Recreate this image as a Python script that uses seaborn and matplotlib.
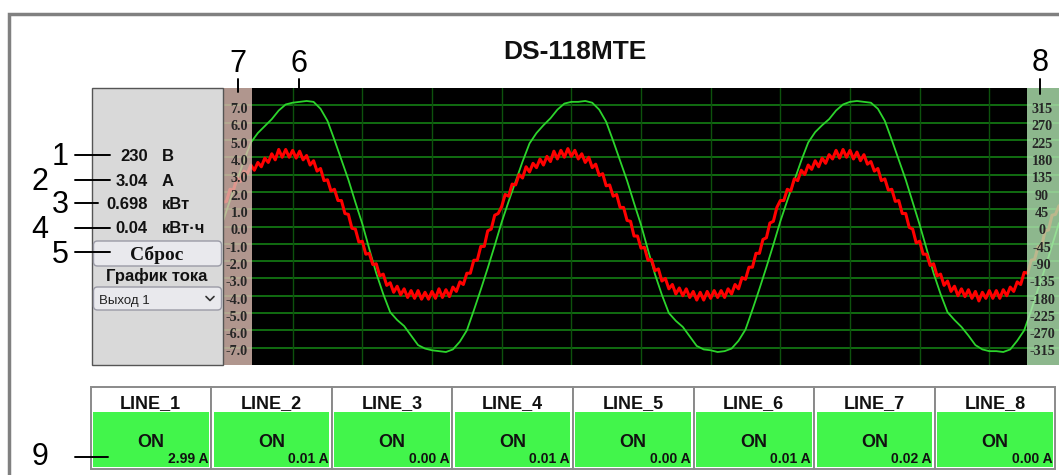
import numpy as np
import matplotlib
matplotlib.use("Agg")
import matplotlib.pyplot as plt
from matplotlib.patches import Rectangle, FancyBboxPatch
import seaborn as sns

sns.set_theme(style="white")
plt.rcParams['font.family'] = ['Liberation Sans', 'DejaVu Sans']

W, H = 1059, 475

# --- data ---
title = "DS-118MTE"
meter_values = ["230", "3.04", "0.698", "0.04"]
meter_units = ["В", "А", "кВт", "кВт·ч"]
reset_label = "Сброс"
graph_label = "График тока"
output_choice = "Выход 1"

current_scale = [7.0, 6.0, 5.0, 4.0, 3.0, 2.0, 1.0, 0.0, -1.0, -2.0, -3.0, -4.0, -5.0, -6.0, -7.0]
voltage_scale = [315, 270, 225, 180, 135, 90, 45, 0, -45, -90, -135, -180, -225, -270, -315]

line_names = ["LINE_1", "LINE_2", "LINE_3", "LINE_4", "LINE_5", "LINE_6", "LINE_7", "LINE_8"]
line_states = ["ON"] * 8
line_currents = [2.99, 0.01, 0.00, 0.01, 0.00, 0.01, 0.02, 0.00]

# voltage trace (green), one value every 2 samples, in current-scale units
green_voltage = [
    0.3, 1.5, 2.65, 3.8, 4.85, 5.4, 5.8, 6.2, 6.7, 7.05, 7.15, 7.2, 7.25, 7.2, 6.8, 6.1, 5.0, 3.85, 2.7, 1.4,
    0.15, -1.3, -2.7, -3.9, -4.95, -5.4, -5.75, -6.3, -6.85, -7.05, -7.15, -7.2, -7.25, -7.1, -6.65, -6.0, -4.85, -3.65, -2.4, -1.1,
    0.25, 1.45, 2.6, 3.75, 4.8, 5.4, 5.85, 6.25, 6.75, 7.1, 7.2, 7.2, 7.25, 7.15, 6.75, 6.05, 4.95, 3.8, 2.65, 1.35,
    0.1, -1.35, -2.75, -3.95, -5.0, -5.45, -5.8, -6.35, -6.9, -7.1, -7.15, -7.25, -7.2, -7.05, -6.6, -5.95, -4.8, -3.6, -2.35, -1.05,
    0.3, 1.5, 2.65, 3.8, 4.85, 5.45, 5.85, 6.2, 6.7, 7.05, 7.2, 7.25, 7.2, 7.15, 6.8, 6.1, 5.0, 3.85, 2.7, 1.4,
    0.1, -1.3, -2.7, -3.9, -4.95, -5.4, -5.8, -6.3, -6.85, -7.1, -7.2, -7.2, -7.25, -7.1, -6.6, -6.0, -4.85, -3.6, -2.4, -1.1,
    0.2,
]

# current trace (red), one value per sample
red_current = [
    1.4, 1.45, 2.15, 2.1, 2.8, 2.6, 3.2, 3.05, 3.55, 3.25,
    3.7, 3.45, 3.95, 3.7, 4.2, 3.85, 4.45, 4.0, 4.45, 4.0,
    4.4, 3.95, 4.35, 3.85, 4.1, 3.55, 3.8, 3.2, 3.35, 2.65,
    2.7, 2.05, 2.15, 1.5, 1.5, 0.75, 0.7, -0.1, -0.15, -0.9,
    -0.85, -1.6, -1.55, -2.2, -2.15, -2.85, -2.75, -3.4, -3.25, -3.8,
    -3.45, -3.95, -3.6, -4.1, -3.7, -4.15, -3.7, -4.2, -3.8, -4.2,
    -3.75, -4.15, -3.6, -4.1, -3.65, -4.05, -3.5, -3.75, -3.2, -3.35,
    -2.7, -2.7, -1.95, -1.95, -1.15, -1.15, -0.25, -0.15, 0.65, 0.75,
    1.15, 1.85, 1.75, 2.45, 2.4, 3.0, 2.8, 3.45, 3.15, 3.65,
    3.4, 3.9, 3.55, 4.05, 3.75, 4.35, 3.9, 4.4, 4.0, 4.5,
    4.05, 4.4, 3.9, 4.2, 3.7, 4.0, 3.4, 3.6, 2.95, 3.05,
    2.35, 2.4, 1.75, 1.85, 1.1, 1.1, 0.35, 0.3, -0.55, -0.55,
    -1.25, -1.2, -1.95, -1.9, -2.55, -2.45, -3.15, -3.0, -3.6, -3.35,
    -3.9, -3.55, -4.0, -3.6, -4.1, -3.75, -4.25, -3.8, -4.25, -3.75,
    -4.15, -3.7, -4.1, -3.7, -4.1, -3.6, -3.9, -3.35, -3.6, -2.95,
    -3.05, -2.35, -2.35, -1.55, -1.55, -0.75, -0.65, 0.2, 0.3, 1.1,
    1.5, 1.5, 2.15, 2.05, 2.75, 2.65, 3.25, 3.0, 3.55, 3.3,
    3.8, 3.45, 3.95, 3.65, 4.15, 3.9, 4.4, 3.95, 4.45, 4.0,
    4.4, 3.9, 4.3, 3.8, 4.15, 3.6, 3.75, 3.2, 3.35, 2.65,
    2.75, 2.1, 2.15, 1.45, 1.5, 0.75, 0.75, -0.05, -0.15, -0.95,
    -0.85, -1.6, -1.6, -2.25, -2.15, -2.85, -2.75, -3.4, -3.15, -3.75,
    -3.45, -4.0, -3.6, -4.05, -3.65, -4.15, -3.75, -4.3, -3.8, -4.15,
    -3.7, -4.15, -3.7, -4.15, -3.65, -4.0, -3.5, -3.75, -3.2, -3.35,
    -2.65, -2.7, -1.95, -1.9, -1.15, -1.15, -0.25, -0.2, 0.65, 0.7,
    1.2,
]

fig = plt.figure(figsize=(W / 100, H / 100), dpi=100)
fig.patch.set_facecolor("white")

# --- oscilloscope canvas ---
ax = fig.add_axes([223 / W, (H - 365) / H, 836 / W, 277 / H], zorder=1)
ax.set_facecolor("black")
for v in current_scale:
    ax.axhline(v, color="#127512", lw=1.3, zorder=0)
for xv in range(20, 240, 20):
    ax.axvline(xv, color="#0d520d", lw=1.0, zorder=0)
sns.lineplot(x=np.arange(0, 241, 2), y=green_voltage, ax=ax, color="#2cd42c", lw=1.3, zorder=3)
sns.lineplot(x=np.arange(241), y=red_current, ax=ax, color="#ff0000", lw=2.2, zorder=4)
ax.set_xlim(0, 240)
ax.set_ylim(-8, 8)
ax.set_xticks([])
ax.set_yticks([])
ax.set_xlabel("")
ax.set_ylabel("")
for sp in ax.spines.values():
    sp.set_visible(False)

# --- UI overlay in pixel coordinates ---
ui = fig.add_axes([0, 0, 1, 1], zorder=5)
ui.set_xlim(0, W)
ui.set_ylim(H, 0)
ui.axis("off")

px_per_unit = 277 / 16.0
def scale_y(v):
    return 226.5 - v * px_per_unit

# scale strips (semi transparent over the trace)
ui.add_patch(Rectangle((223, 88), 29, 277, fc="#d8b8ae", alpha=0.82, lw=0))
ui.add_patch(Rectangle((1027, 88), 32, 277, fc="#ade0ad", alpha=0.82, lw=0))
for v in current_scale:
    ui.text(248, scale_y(v) + 7.8, f"{v:.1f}", ha="right", va="baseline",
            family="Liberation Serif", weight="bold", fontsize=10.2, color="#262626")
for v, lab in zip(current_scale, voltage_scale):
    ui.text(1042, scale_y(v) + 7.8, str(lab), ha="center", va="baseline",
            family="Liberation Serif", weight="bold", fontsize=10.2, color="#262626")

# outer frame
ui.plot([8.7, 8.7, W], [H, 13.5, 13.5], color="#808080", lw=2.5, solid_joinstyle="miter")

ui.text(575, 59, title, ha="center", va="baseline", weight="bold", fontsize=19, color="#111111")

# left info panel
ui.add_patch(Rectangle((92, 88), 131, 277, fc="#d9d9d9", ec="#555555", lw=1.0))
for val, unit, yb in zip(meter_values, meter_units, [161, 186, 209, 233]):
    ui.text(148, yb, val, ha="right", va="baseline", weight="bold", fontsize=12, color="#111111")
    ui.text(162, yb, unit, ha="left", va="baseline", weight="bold", fontsize=12, color="#111111")

ui.add_patch(FancyBboxPatch((93.5, 241), 128, 25, boxstyle="round,pad=0,rounding_size=4",
                            fc="#e9e9ed", ec="#9a9aa6", lw=1.0))
ui.text(157, 260, reset_label, ha="center", va="baseline", family="Liberation Serif",
        weight="bold", fontsize=14, color="#111111")
ui.text(157, 281, graph_label, ha="center", va="baseline", weight="bold", fontsize=12, color="#111111")
ui.add_patch(FancyBboxPatch((93.5, 287), 128, 23, boxstyle="round,pad=0,rounding_size=4",
                            fc="#e9e9ed", ec="#9a9aa6", lw=1.0))
ui.text(99, 304, output_choice, ha="left", va="baseline", fontsize=9.5, color="#222222")
ui.plot([206, 210, 214], [296.5, 300.5, 296.5], color="#333333", lw=1.2)

# callout numbers
callouts = [
    ("1", 60, 165, [(75, 155), (110, 155)]),
    ("2", 40, 190, [(75, 180), (110, 180)]),
    ("3", 60, 213, [(75, 203), (98, 203)]),
    ("4", 40, 238, [(75, 228), (110, 228)]),
    ("5", 60, 263, [(75, 252), (110, 252)]),
    ("6", 299, 72, [(299, 79), (299, 88)]),
    ("7", 238, 72, [(238, 79), (238, 92)]),
    ("8", 1040, 71, [(1040, 79), (1040, 94)]),
    ("9", 40, 465, [(75, 457), (108, 457)]),
]
for num, tx, ty, seg in callouts:
    ui.text(tx, ty, num, ha="center", va="baseline", fontsize=22, color="black")
    ui.plot([seg[0][0], seg[1][0]], [seg[0][1], seg[1][1]], color="black", lw=1.4, zorder=6)

# output line cards
card_w = 120.6
for i, (name, state, amp) in enumerate(zip(line_names, line_states, line_currents)):
    x0 = 90.5 + i * card_w
    ui.add_patch(Rectangle((x0, 387), card_w, 82, fc="white", ec="#8a8a8a", lw=1.4))
    ui.add_patch(Rectangle((x0 + 2.5, 412), card_w - 5, 55, fc="#42f54b", lw=0))
    ui.text(x0 + card_w / 2, 408, name, ha="center", va="baseline", weight="bold", fontsize=13, color="#111111")
    ui.text(x0 + card_w / 2, 447, state, ha="center", va="baseline", weight="bold", fontsize=13, color="#111111")
    ui.text(x0 + card_w - 3, 463, f"{amp:.2f} A", ha="right", va="baseline", weight="bold",
            fontsize=10, color="#111111")

fig.savefig("out.png", dpi=100)
